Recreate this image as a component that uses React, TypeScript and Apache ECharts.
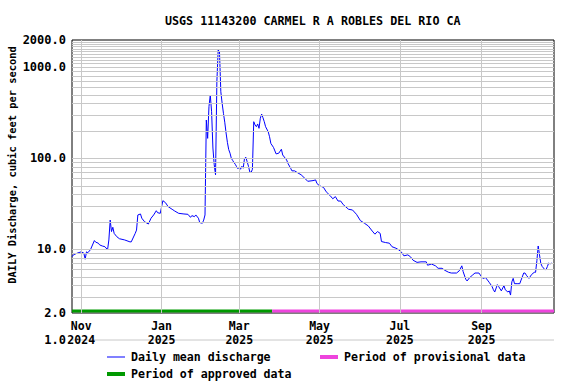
import React, { useEffect, useRef } from "react";
import * as echarts from "echarts";

const FONT = "'DejaVu Sans Mono', 'Liberation Mono', monospace";

const chartTitle = "USGS 11143200 CARMEL R A ROBLES DEL RIO CA";
const yAxisTitle = "DAILY Discharge, cubic feet per second";

// Day 0 = 2024-10-25
const startYMD = [2024, 9, 25];
const endYMD = [2025, 9, 26];

// [day offset, daily mean discharge cfs]
const dailyDischarge: [number, number][] = [
  [0, 8.3], [1, 8.7], [4, 9.1], [7, 9.4], [9, 9.1], [10, 7.8], [11, 9.4], [12, 9.2], [14, 9.9],
  [17, 12.5], [18, 12.0], [20, 11.7], [21, 11.2], [23, 10.9], [25, 10.7], [27, 9.9], [28, 12.7],
  [29, 21.0], [30, 15.7], [31, 17.5], [32, 15.0], [34, 13.8], [36, 13.1], [40, 12.7], [44, 12.1],
  [45, 12.1], [48, 15.0], [49, 16.3], [50, 23.9], [52, 24.5], [53, 22.0], [55, 20.2], [58, 19.0],
  [60, 22.0], [62, 23.9], [64, 26.6], [65, 25.3], [67, 24.9], [69, 34.3], [71, 32.6], [73, 29.5],
  [76, 27.6], [78, 26.4], [81, 24.9], [85, 24.5], [88, 24.3], [90, 22.5], [91, 23.5], [93, 22.9],
  [94, 23.9], [96, 22.0], [97, 19.7], [99, 19.4], [100, 21.0], [101, 23.9], [102, 264], [103, 166],
  [104, 370], [105, 497], [106, 326], [107, 130], [108, 85], [109, 66], [110, 696], [111, 1553],
  [112, 1488], [113, 540], [114, 404], [115, 313], [116, 250], [117, 190], [118, 150], [119, 125],
  [120, 114], [121, 100], [122, 95], [123, 90], [124, 86], [125, 81], [126, 77], [127, 80],
  [128, 76], [129, 82], [130, 78], [131, 100], [132, 103], [133, 92], [134, 82], [135, 71],
  [136, 70], [137, 76], [138, 253], [139, 233], [140, 223], [141, 239], [142, 214], [143, 276],
  [144, 307], [145, 280], [146, 253], [147, 223], [149, 196], [150, 173], [151, 146], [153, 132],
  [155, 112], [157, 114], [159, 126], [160, 109], [163, 96], [164, 88], [166, 78], [167, 73],
  [169, 73], [171, 70], [174, 66], [177, 60], [179, 56], [183, 57], [185, 58], [186, 53],
  [188, 50], [191, 48], [193, 43], [196, 39], [198, 36], [200, 38], [202, 34], [204, 34],
  [206, 31], [210, 27.6], [213, 27.1], [216, 24.3], [219, 20.7], [222, 19.4], [225, 18.1],
  [228, 15.9], [230, 14.7], [232, 15.7], [234, 15.0], [235, 12.2], [238, 11.9], [241, 11.7],
  [243, 10.7], [246, 10.3], [248, 9.9], [250, 9.4], [252, 8.5], [255, 8.7], [257, 8.3],
  [259, 7.6], [262, 7.2], [265, 7.3], [269, 7.3], [270, 6.7], [273, 6.9], [276, 6.6], [278, 6.2],
  [281, 6.2], [283, 5.9], [286, 5.6], [288, 5.5], [292, 5.5], [294, 5.8], [296, 6.6], [297, 5.7],
  [299, 4.7], [300, 4.5], [302, 4.9], [304, 5.2], [306, 5.5], [309, 5.5], [311, 5.0], [312, 4.8],
  [314, 4.9], [316, 4.5], [317, 4.3], [319, 3.9], [320, 3.6], [321, 3.4], [323, 4.1], [324, 3.9],
  [326, 3.5], [328, 4.0], [329, 3.6], [331, 3.4], [332, 3.5], [333, 3.15], [334, 4.4], [335, 4.8],
  [336, 4.2], [338, 4.2], [340, 4.2], [341, 4.6], [343, 5.5], [344, 5.5], [345, 5.2], [347, 4.8],
  [349, 5.3], [351, 5.6], [352, 5.6], [353, 7.5], [354, 10.9], [355, 8.7], [356, 7.0], [357, 6.5],
  [359, 6.0], [360, 6.0], [361, 6.5], [362, 7.1], [363, 6.9], [364, 7.1],
];

// Data-status periods (day offsets)
const approvedPeriod = [0, 152];
const provisionalPeriod = [152, 366];
const periodBarLevel = 2.11;

const xTickDates = ["2024-11-01", "2025-01-01", "2025-03-01", "2025-05-01", "2025-07-01", "2025-09-01"];
const monthNames = ["Jan", "Feb", "Mar", "Apr", "May", "Jun", "Jul", "Aug", "Sep", "Oct", "Nov", "Dec"];
const yGridValues = [
  3, 4, 5, 6, 7, 8, 9, 10, 20, 30, 40, 50, 60, 70, 80, 90, 100, 200, 300, 400, 500, 600, 700, 800, 900,
  1000, 1100, 1200, 1300, 1400, 1500, 1600, 1700, 1800, 1900,
];

const dayToTime = (d: number) => new Date(startYMD[0], startYMD[1], startYMD[2] + d).getTime();
const parseDate = (s: string) => {
  const [y, m, d] = s.split("-").map(Number);
  return new Date(y, m - 1, d).getTime();
};

export default function App() {
  const ref = useRef<HTMLDivElement>(null);
  useEffect(() => {
    if (!ref.current) return;
    const chart = echarts.init(ref.current, null, { renderer: "svg" });
    const xMin = dayToTime(0);
    const xMax = new Date(endYMD[0], endYMD[1], endYMD[2]).getTime();
    const tickTimes = xTickDates.map(parseDate);
    const gridColor = "#c8c8c8";
    const textBase = { fontFamily: FONT, fontWeight: "bold" as const, color: "#000" };
    const legendBase = {
      padding: 0,
      itemWidth: 18,
      icon: "rect",
      selectedMode: false,
      textStyle: { ...textBase, fontSize: 11.6, padding: [0, 0, 0, 1] },
    };

    const option: any = {
      animation: false,
      backgroundColor: "#ffffff",
      title: {
        text: chartTitle,
        left: 165,
        top: 15,
        padding: 0,
        textStyle: { ...textBase, fontSize: 11.7 },
      },
      grid: {
        left: 72,
        right: 22,
        top: 40,
        bottom: 71,
        show: true,
        borderColor: "#000",
        borderWidth: 1,
        backgroundColor: "transparent",
      },
      xAxis: {
        type: "value",
        min: xMin,
        max: xMax,
        scale: true,
        axisLine: { show: false },
        axisTick: { show: false },
        splitLine: { show: false },
        axisLabel: {
          customValues: tickTimes,
          formatter: (v: number) => {
            const d = new Date(v);
            return monthNames[d.getMonth()] + "\n" + d.getFullYear();
          },
          ...textBase,
          fontSize: 11.5,
          lineHeight: 14,
          margin: 6,
          hideOverlap: false,
        },
      },
      yAxis: {
        type: "log",
        logBase: 10,
        min: 2,
        max: 2000,
        axisLine: { show: false },
        axisTick: { show: false },
        splitLine: { show: false },
        axisLabel: {
          formatter: (v: number) => Number(v).toFixed(1),
          ...textBase,
          fontSize: 12,
          margin: 6,
          showMinLabel: true,
          showMaxLabel: true,
        },
      },
      legend: [
        { ...legendBase, data: ["Daily mean discharge"], left: 107, top: 351, itemHeight: 1 },
        { ...legendBase, data: ["Period of provisional data"], left: 320, top: 351, itemHeight: 4 },
        { ...legendBase, data: ["Period of approved data"], left: 107, top: 368, itemHeight: 4 },
      ],
      graphic: [
        {
          type: "line",
          z: -1,
          shape: { x1: 72, y1: 340, x2: 554, y2: 340 },
          style: { stroke: gridColor, lineWidth: 1 },
        },
        {
          type: "text",
          x: 66,
          y: 340,
          style: {
            text: "1.0",
            align: "right",
            verticalAlign: "middle",
            font: `bold 12px ${FONT}`,
            fill: "#000",
          },
        },
        {
          type: "text",
          x: 12,
          y: 165,
          rotation: Math.PI / 2,
          style: {
            text: yAxisTitle,
            align: "center",
            verticalAlign: "middle",
            font: `bold 10.4px ${FONT}`,
            fill: "#000",
          },
        },
      ],
      series: [
        {
          name: "grid",
          type: "line",
          data: [],
          z: 1,
          silent: true,
          markLine: {
            silent: true,
            symbol: ["none", "none"],
            label: { show: false },
            lineStyle: { color: gridColor, width: 1, type: "solid" },
            data: [
              ...yGridValues.map((v) => ({ yAxis: v })),
              ...tickTimes.map((t) => ({ xAxis: t })),
            ],
          },
        },
        {
          name: "Period of approved data",
          type: "line",
          symbol: "none",
          z: 2,
          color: "#009900",
          lineStyle: { color: "#009900", width: 3 },
          data: approvedPeriod.map((d) => [dayToTime(d), periodBarLevel]),
        },
        {
          name: "Period of provisional data",
          type: "line",
          symbol: "none",
          z: 2,
          color: "#ee44dd",
          lineStyle: { color: "#ee44dd", width: 3 },
          data: provisionalPeriod.map((d) => [dayToTime(d), periodBarLevel]),
        },
        {
          name: "Daily mean discharge",
          type: "line",
          symbol: "none",
          z: 3,
          color: "#0000ff",
          lineStyle: { color: "#0000ff", width: 1 },
          data: dailyDischarge.map(([d, v]) => [dayToTime(d), v]),
        },
      ],
    };
    chart.setOption(option);
    return () => chart.dispose();
  }, []);
  return <div ref={ref} style={{ position: "absolute", left: 0, top: 0, width: 576, height: 384 }} />;
}
